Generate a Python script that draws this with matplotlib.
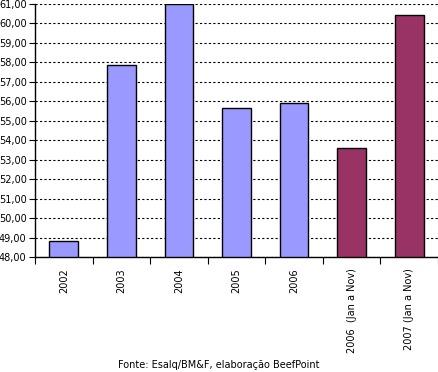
import numpy as np
import matplotlib
matplotlib.use("Agg")
import matplotlib.pyplot as plt

# data
categories = ["2002", "2003", "2004", "2005", "2006",
              "2006  (Jan a Nov)", "2007 (Jan a Nov)"]
values = [48.80, 57.88, 60.98, 55.65, 55.93, 53.60, 60.45]
colors = ["#9999FF"] * 5 + ["#993366"] * 2
yticks = np.arange(48, 62, 1)

fig = plt.figure(figsize=(4.38, 3.72), dpi=100)
ax = fig.add_axes([35 / 438, 1 - 257 / 372, 1 - 35 / 438, (257 - 4) / 372])

x = np.arange(len(categories))
ax.bar(x, [v - 48 for v in values], bottom=48, width=0.5, color=colors,
       edgecolor="black", linewidth=1, zorder=3)

ax.set_ylim(48, 61)
ax.set_xlim(-0.5, len(categories) - 0.5)
ax.set_yticks(yticks)
ax.set_yticklabels(["{:.2f}".format(t).replace(".", ",") for t in yticks],
                   fontsize=7)
ax.yaxis.grid(True, color="black", linestyle=(0, (2, 2)), linewidth=0.8)
ax.set_axisbelow(True)

# category labels between boundary ticks
ax.set_xticks(np.arange(len(categories) + 1) - 0.5)
ax.set_xticklabels([])
ax.set_xticks(x, minor=True)
ax.set_xticklabels(categories, minor=True, rotation=90, fontsize=7)
ax.tick_params(axis="x", which="minor", length=0, pad=8)
ax.tick_params(axis="x", which="major", length=5, direction="out")
ax.tick_params(axis="y", length=4, direction="out", pad=2)

for s in ["top", "right"]:
    ax.spines[s].set_visible(False)
ax.spines["left"].set_linewidth(1)
ax.spines["bottom"].set_linewidth(1)

fig.text(219 / 438, 1 - 365 / 372, "Fonte: Esalq/BM&F, elaboração BeefPoint",
         ha="center", va="center", fontsize=7)

fig.savefig("out.png", dpi=100)
